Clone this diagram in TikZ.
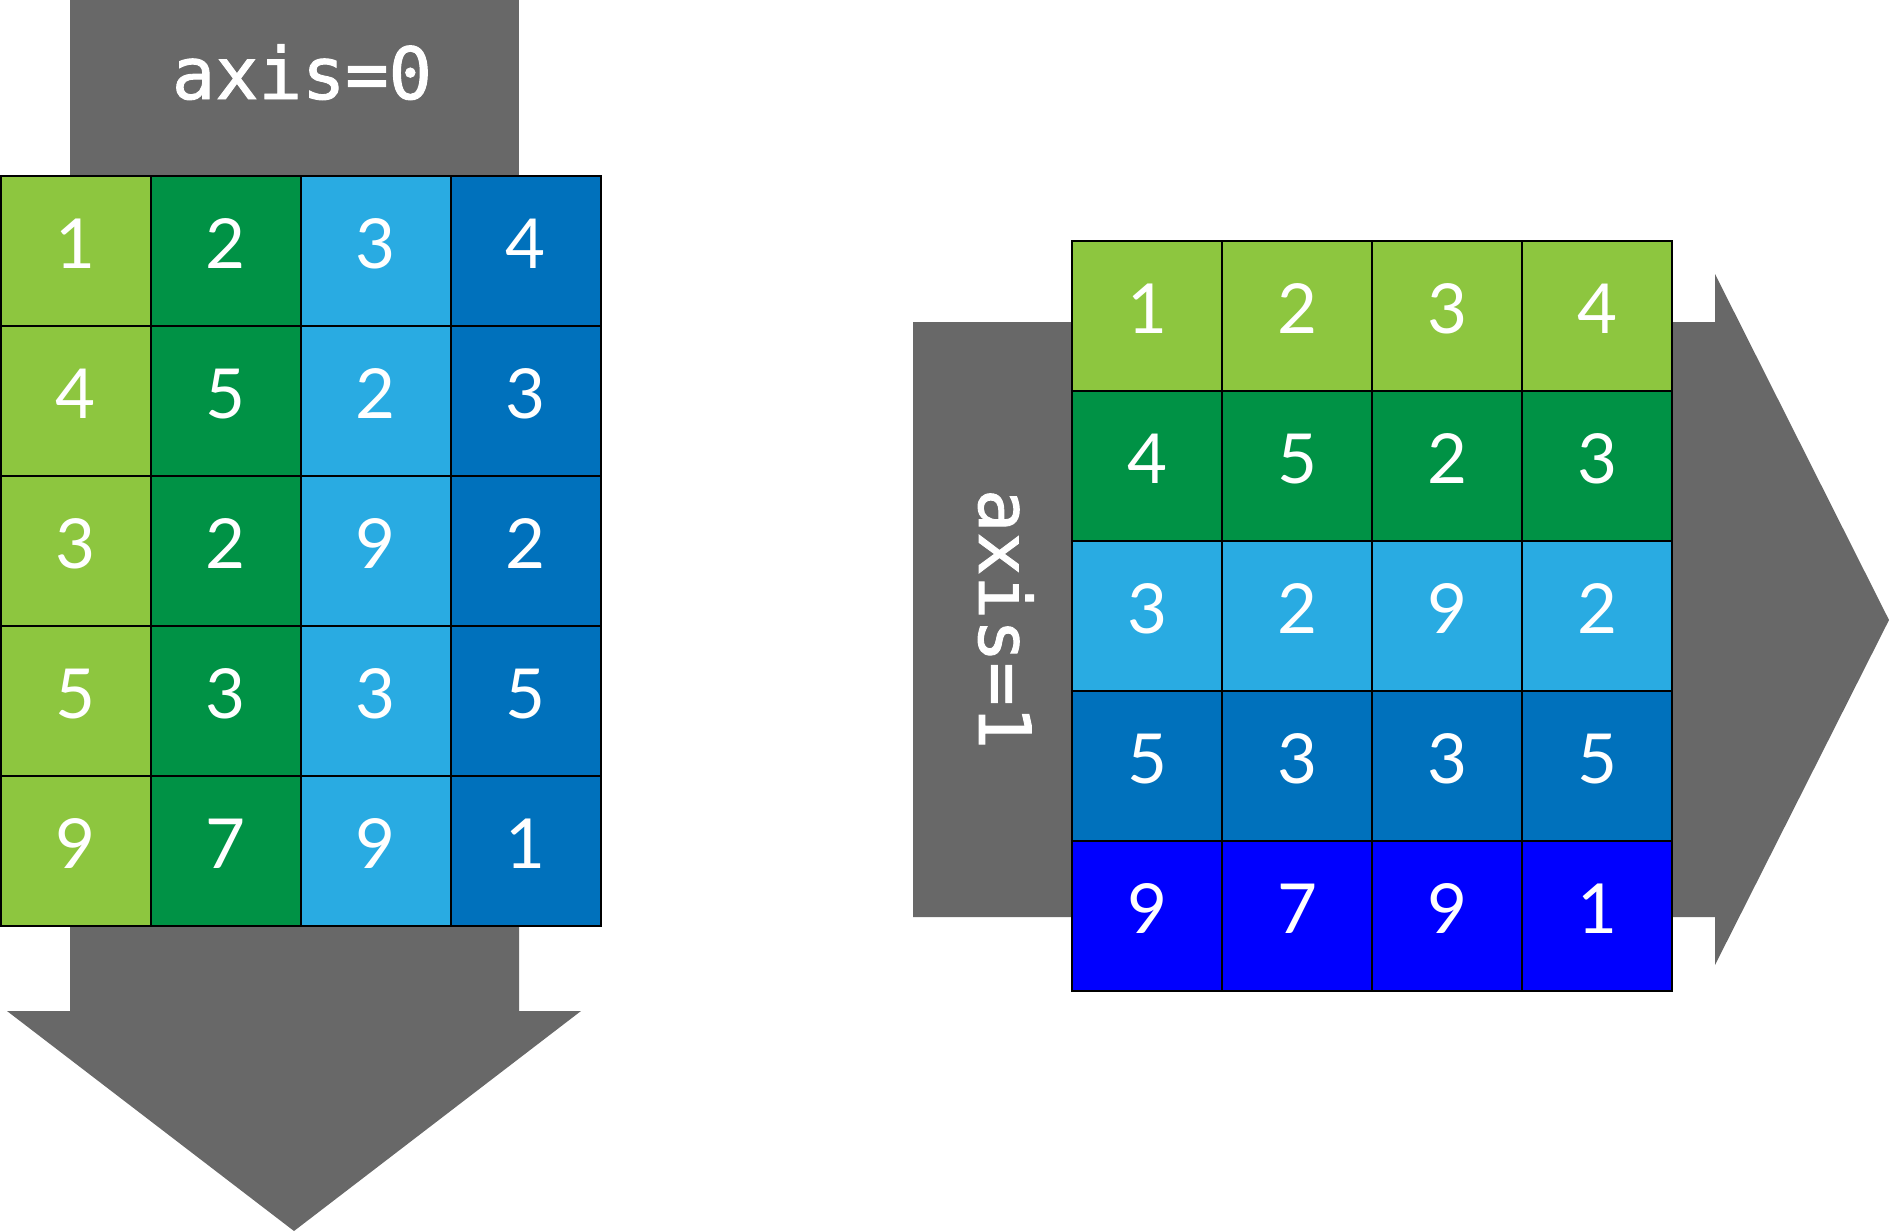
\documentclass[tikz,border=0pt]{standalone}
\usepackage{fontspec}
\newfontfamily\digitfont{Lato}
\newfontfamily\monofont[FakeBold=1.3]{DejaVu Sans Mono}
\definecolor{colL0}{HTML}{8DC63F}
\definecolor{colL1}{HTML}{009245}
\definecolor{colL2}{HTML}{29ABE2}
\definecolor{colL3}{HTML}{0071BC}
\definecolor{colR0}{HTML}{8DC63F}
\definecolor{colR1}{HTML}{009245}
\definecolor{colR2}{HTML}{29ABE2}
\definecolor{colR3}{HTML}{0071BC}
\definecolor{colR4}{HTML}{0000FF}
\definecolor{arrowgray}{HTML}{686868}
\begin{document}
\begin{tikzpicture}[x=1pt,y=-1pt,
  cell/.style={draw=black, line width=1.5pt, minimum width=150pt, minimum height=150pt,
    inner sep=0pt, outer sep=0pt, anchor=north west, text=white,
    font=\digitfont\fontsize{69}{69}\selectfont, text height=49pt, text depth=14pt},
  axislabel/.style={text=white, font=\monofont\fontsize{72}{72}\selectfont, inner sep=0pt, anchor=base},
  band/.style={fill=arrowgray, draw=none}]
\useasboundingbox (0,0) rectangle (1891,1232);
% left: axis=0 arrow
\fill[band] (70,0) rectangle (519,180);
\fill[band] (70,920) -- (519,920) -- (519,1011) -- (581,1011) -- (294,1231) -- (7,1011) -- (70,1011) -- cycle;
\node[axislabel] (ax0) at (302,99) {axis=0};
% right: axis=1 arrow
\fill[band] (913,322) -- (1715,322) -- (1715,274) -- (1889,620) -- (1715,965) -- (1715,917) -- (913,917) -- cycle;
\node[axislabel, rotate=-90] (ax1) at (979,619) {axis=1};
% left grid
\foreach \row [count=\r from 0] in {{1,2,3,4},{4,5,2,3},{3,2,9,2},{5,3,3,5},{9,7,9,1}} {
  \foreach \v [count=\c from 0] in \row {
    \node[cell, fill=colL\c] (L-\r-\c) at (1+150*\c, 176+150*\r) {\v};
  }
}
% right grid
\foreach \row [count=\r from 0] in {{1,2,3,4},{4,5,2,3},{3,2,9,2},{5,3,3,5},{9,7,9,1}} {
  \foreach \v [count=\c from 0] in \row {
    \node[cell, fill=colR\r] (R-\r-\c) at (1072+150*\c, 241+150*\r) {\v};
  }
}
\end{tikzpicture}
\end{document}
